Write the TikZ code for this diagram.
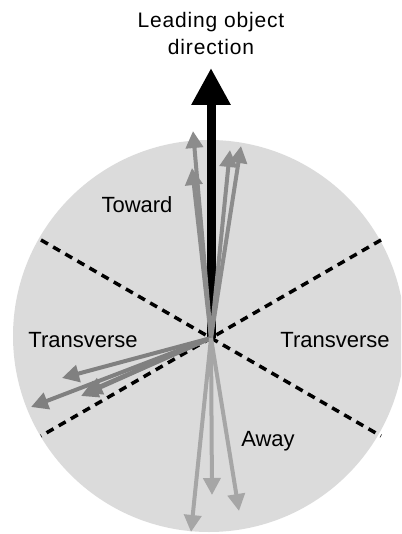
\documentclass[tikz,border=0pt]{standalone}
\usepackage{fontspec}
\setmainfont{Liberation Sans}
\usetikzlibrary{arrows.meta}

\begin{document}
\begin{tikzpicture}[x=1pt,y=-1pt,
    label text/.style={font=\fontsize{22}{27}\selectfont},
    title text/.style={font=\fontsize{21}{27}\selectfont\addfontfeature{LetterSpace=4}},
    region/.style={fill=black!14},
    divider/.style={line width=3.5pt,dash pattern=on 8pt off 6pt},
    heading/.style={line width=9pt,-{Triangle[length=37pt,width=37pt]}},
    traj/.style={line width=4pt,-{Triangle[length=17pt,width=17pt]}},
    toward traj/.style={traj,draw=black!45,fill=black!45},
    side traj/.style={traj,draw=black!50,fill=black!50},
    away traj/.style={traj,draw=black!35,fill=black!35}]
    \useasboundingbox (0,0) rectangle (401,534);
    \clip (0,0) rectangle (401,534);

    % field of view
    \coordinate (c) at (209,336);
    \fill[region] (c) circle (196);

    % sector borders
    \coordinate (o) at (211,338);
    \coordinate (ul) at (41,240);
    \coordinate (ur) at (381,240);
    \coordinate (ll) at (41,436);
    \coordinate (lr) at (381,436);
    \draw[divider] (ul) -- (lr);
    \draw[divider] (ur) -- (ll);

    % leading object
    \coordinate (lead) at (211,68);
    \draw[heading] (o) -- (lead);
    \node[title text,align=center] (title) at (211,33) {Leading object\\direction};

    % toward
    \coordinate (t1) at (193,131);
    \coordinate (t2) at (192,168);
    \coordinate (t3) at (230,150);
    \coordinate (t4) at (241,146);
    \foreach \t in {t1,t2,t3,t4}
      \draw[toward traj] (o) -- (\t);

    % transverse
    \coordinate (s1) at (62,378);
    \coordinate (s2) at (31,407);
    \coordinate (s3) at (81,396);
    \coordinate (s4) at (85,393);
    \foreach \s in {s1,s2,s3,s4}
      \draw[side traj] (o) -- (\s);

    % away
    \coordinate (a1) at (212,495);
    \coordinate (a2) at (239,511);
    \coordinate (a3) at (191,532);
    \foreach \a in {a1,a2,a3}
      \draw[away traj] (o) -- (\a);

    \node[label text,anchor=base] (toward) at (137,212) {Toward};
    \node[label text,anchor=base] (left) at (83,347) {Transverse};
    \node[label text,anchor=base] (right) at (335,347) {Transverse};
    \node[label text,anchor=base] (away) at (268,446) {Away};
  \end{tikzpicture}
\end{document}
